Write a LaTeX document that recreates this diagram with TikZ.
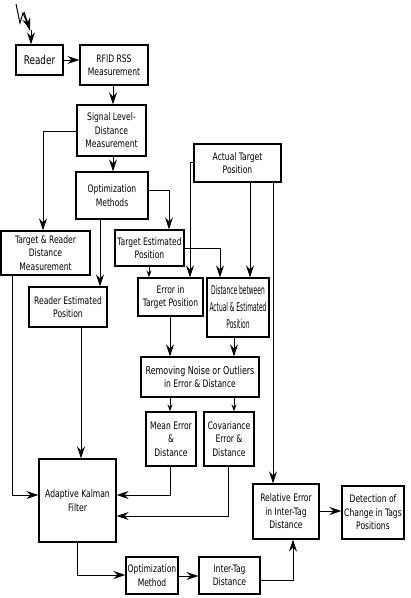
\documentclass[tikz,border=0pt]{standalone}
\usepackage{fontspec}
\setmainfont[FakeStretch=0.82]{DejaVu Sans Condensed}
\newfontfamily\narrowfont[FakeStretch=0.55]{DejaVu Sans Condensed}
\usetikzlibrary{arrows.meta,calc}
\begin{document}
\begin{tikzpicture}[x=1pt,y=-1pt,
  box/.style={draw, line width=1.3pt, align=center, inner sep=0pt,
    font=\fontsize{10.3}{13.5}\selectfont},
  narrowbox/.style={box, font=\narrowfont\fontsize{12}{17}\selectfont},
  arr/.style={line width=1pt, -{Stealth[length=12pt,width=8pt,inset=4pt]}},
  sarr/.style={line width=1pt, -{Stealth[length=7pt,width=5pt,inset=2.5pt]}},
  ln/.style={line width=1pt}]
\useasboundingbox (0,0) rectangle (411,598);
\newcommand{\bx}[6]{\node[box, minimum width=#4pt, minimum height=#5pt] (#1) at (#2,#3) {#6};}
\bx{reader}{39.5}{60}{47}{30}{\fontsize{12}{13.5}\selectfont Reader}
\bx{rfid}{114}{65}{68}{40}{RFID RSS\\Measurement}
\bx{signal}{111.5}{130.5}{69}{51}{Signal Level-\\Distance\\Measurement}
\bx{optim}{112}{195.5}{72}{47}{Optimization\\Methods}
\bx{trd}{45.5}{253}{89}{44}{Target \& Reader\\Distance\\Measurement}
\bx{rep}{68}{307}{78}{40}{Reader Estimated\\Position}
\bx{tep}{149.5}{248}{69}{36}{Target Estimated\\Position}
\bx{err}{170.5}{297}{65}{38}{Error in\\Target Position}
\bx{actual}{237.5}{163}{87}{38}{Actual Target\\Position}
\node[narrowbox, minimum width=62pt, minimum height=59pt] (dist) at (238,307.5)
  {Distance between\\Actual \& Estimated\\Position};
\bx{remove}{200}{377}{118}{40}{\fontsize{10.8}{13.5}\selectfont Removing Noise or Outliers\\in Error \& Distance}
\bx{mean}{171}{439}{50}{54}{Mean Error\\\&\\Distance}
\bx{cov}{229}{439}{50}{54}{Covariance\\Error \&\\Distance}
\bx{akf}{77.5}{500.5}{77}{83}{Adaptive Kalman\\Filter}
\bx{optm}{152}{575.5}{52}{37}{Optimization\\Method}
\bx{inter}{229.5}{575.5}{61}{37}{Inter-Tag\\Distance}
\bx{rel}{286}{511.5}{66}{55}{Relative Error\\in Inter-Tag\\Distance}
\bx{det}{373}{512.5}{62}{53}{Detection of\\Change in Tags\\Positions}
% lightning
\coordinate (z1) at (16,4);
\coordinate (z2) at (20,23);
\coordinate (z3) at (23,13);
\coordinate (z4) at (30,30);
\coordinate (z5) at (31,30);
\draw[ln, line join=miter] (z1) -- (z2) -- (z3) -- (z4);
\draw[arr] (24,12) -- (z4);
\draw[arr] (z5) -- (z5 |- reader.north);
% flow
\draw[arr] (reader) -- (reader -| rfid.west);
\draw[arr] (rfid.south -| 113,0) -- (signal.north -| 113,0);
\draw[arr] (signal.south -| 113,0) -- (optim.north -| 113,0);
\draw[arr] (signal.west |- 0,131) -| (trd.north -| 43,0);
\draw[arr] (optim.south -| 100,0) -- (rep.north -| 100,0);
\draw[arr] (optim.east |- 0,190) -| (tep.north -| 169,0);
\draw[sarr] (tep.south -| 149,0) -- (err.north -| 149,0);
\draw[arr] (actual.west |- 0,162) -| (err.north -| 190,0);
\draw[arr] (tep.east |- 0,248) -| (dist.north -| 220,0);
\draw[arr] (actual.south -| 250,0) -- (dist.north -| 250,0);
\draw[arr] (actual.south -| 273,0) -- (rel.north -| 273,0);
\draw[arr] (err.south -| 170,0) -- (remove.north -| 170,0);
\draw[arr] (dist.south -| 234,0) -- (remove.north -| 234,0);
\draw[sarr] (remove.south -| 170,0) -- (mean.north -| 170,0);
\draw[sarr] (remove.south -| 234,0) -- (cov.north -| 234,0);
\draw[arr] (rep.south -| 81,0) -- (akf.north -| 81,0);
\draw[arr] (trd.south -| 12,0) |- (akf.west |- 0,495);
\draw[arr] (mean.south -| 170,0) |- (akf.east |- 0,495);
\draw[arr] (cov.south -| 228,0) |- (akf.east |- 0,516);
\draw[arr] (akf.south -| 77,0) |- (optm.west |- 0,575);
\draw[arr] (optm.east |- 0,576) -- (inter.west |- 0,576);
\draw[arr] (inter.east |- 0,580) -| (rel.south -| 293,0);
\draw[arr] (rel.east |- 0,511) -- (det.west |- 0,511);
\end{tikzpicture}
\end{document}
